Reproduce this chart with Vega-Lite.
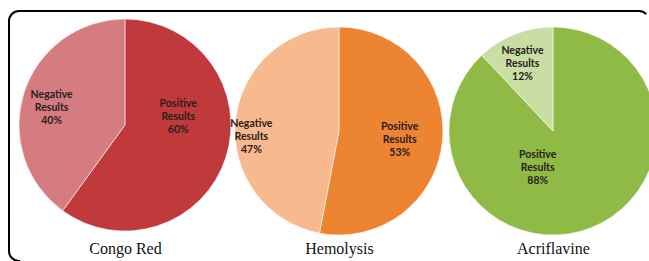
{
  "$schema": "https://vega.github.io/schema/vega-lite/v6.json",
  "autosize": "none",
  "width": 640,
  "height": 250,
  "padding": {"left": 9, "top": 11, "right": 0, "bottom": 0},
  "background": "#ffffff",
  "config": {
    "view": {"stroke": "#000000", "strokeWidth": 2, "cornerRadius": 10, "strokeDash": [628, 872, 420, 100]}
  },
  "data": {
    "values": [
      {"test": "Congo Red", "result": "Positive", "value": 60, "slice": "Congo Red Positive", "label": "Positive Results 60%"},
      {"test": "Congo Red", "result": "Negative", "value": 40, "slice": "Congo Red Negative", "label": "Negative Results 40%"},
      {"test": "Hemolysis", "result": "Positive", "value": 53, "slice": "Hemolysis Positive", "label": "Positive Results 53%"},
      {"test": "Hemolysis", "result": "Negative", "value": 47, "slice": "Hemolysis Negative", "label": "Negative Results 47%"},
      {"test": "Acriflavine", "result": "Positive", "value": 88, "slice": "Acriflavine Positive", "label": "Positive Results 88%"},
      {"test": "Acriflavine", "result": "Negative", "value": 12, "slice": "Acriflavine Negative", "label": "Negative Results 12%"}
    ]
  },
  "encoding": {
    "x": {
      "field": "test",
      "type": "nominal",
      "sort": ["Congo Red", "Hemolysis", "Acriflavine"],
      "scale": {"type": "point", "padding": 0.4953, "align": 0.547},
      "axis": {
        "title": null,
        "domain": false,
        "ticks": false,
        "grid": false,
        "labelAngle": 0,
        "labelFont": "Liberation Serif",
        "labelFontSize": 16,
        "labelColor": "#111111",
        "labelPadding": 0,
        "offset": -21
      }
    },
    "theta": {"field": "value", "type": "quantitative", "stack": true},
    "order": {"field": "result", "sort": "descending"},
    "color": {
      "field": "slice",
      "type": "nominal",
      "legend": null,
      "scale": {
        "domain": ["Congo Red Positive", "Congo Red Negative", "Hemolysis Positive", "Hemolysis Negative", "Acriflavine Positive", "Acriflavine Negative"],
        "range": ["#c0393b", "#d57c80", "#ec8431", "#f7b98d", "#8fba45", "#c8dea3"]
      }
    }
  },
  "layer": [
    {
      "transform": [{"filter": "datum.test === 'Congo Red'"}],
      "layer": [
        {"mark": {"type": "arc", "outerRadius": 106, "yOffset": -11, "stroke": "#ffffff", "strokeWidth": 0.8, "strokeOpacity": 0.7}},
        {"mark": {"type": "text", "radius": 56, "yOffset": -11, "dy": -38, "font": "Lato", "fontWeight": "bold", "fontSize": 10.5, "lineBreak": " ", "lineHeight": 13},
         "encoding": {"text": {"condition": {"test": "datum.result === 'Positive'", "field": "label"}, "value": ""}, "color": {"value": "#2a2020"}}},
        {"mark": {"type": "text", "radius": 75, "yOffset": -11, "dy": -7, "dx": -2, "font": "Lato", "fontWeight": "bold", "fontSize": 10.5, "lineBreak": " ", "lineHeight": 13},
         "encoding": {"text": {"condition": {"test": "datum.result === 'Negative'", "field": "label"}, "value": ""}, "color": {"value": "#2a2020"}}}
      ]
    },
    {
      "transform": [{"filter": "datum.test === 'Hemolysis'"}],
      "layer": [
        {"mark": {"type": "arc", "outerRadius": 104, "yOffset": -5, "stroke": "#ffffff", "strokeWidth": 0.8, "strokeOpacity": 0.7}},
        {"mark": {"type": "text", "radius": 61, "yOffset": -5, "dy": -10, "font": "Lato", "fontWeight": "bold", "fontSize": 10.5, "lineBreak": " ", "lineHeight": 13},
         "encoding": {"text": {"condition": {"test": "datum.result === 'Positive'", "field": "label"}, "value": ""}, "color": {"value": "#2a2020"}}},
        {"mark": {"type": "text", "radius": 88, "yOffset": -5, "dy": 1, "font": "Lato", "fontWeight": "bold", "fontSize": 10.5, "lineBreak": " ", "lineHeight": 13},
         "encoding": {"text": {"condition": {"test": "datum.result === 'Negative'", "field": "label"}, "value": ""}, "color": {"value": "#2a2020"}}}
      ]
    },
    {
      "transform": [{"filter": "datum.test === 'Acriflavine'"}],
      "layer": [
        {"mark": {"type": "arc", "outerRadius": 104, "yOffset": -5, "stroke": "#ffffff", "strokeWidth": 0.8, "strokeOpacity": 0.7}},
        {"mark": {"type": "text", "radius": 40, "yOffset": -5, "dx": -30, "dy": -13, "font": "Lato", "fontWeight": "bold", "fontSize": 10.5, "lineBreak": " ", "lineHeight": 13},
         "encoding": {"text": {"condition": {"test": "datum.result === 'Positive'", "field": "label"}, "value": ""}, "color": {"value": "#2a2020"}}},
        {"mark": {"type": "text", "radius": 72, "yOffset": -5, "dx": -4, "dy": -13, "font": "Lato", "fontWeight": "bold", "fontSize": 10.5, "lineBreak": " ", "lineHeight": 13},
         "encoding": {"text": {"condition": {"test": "datum.result === 'Negative'", "field": "label"}, "value": ""}, "color": {"value": "#2a2020"}}}
      ]
    }
  ]
}
